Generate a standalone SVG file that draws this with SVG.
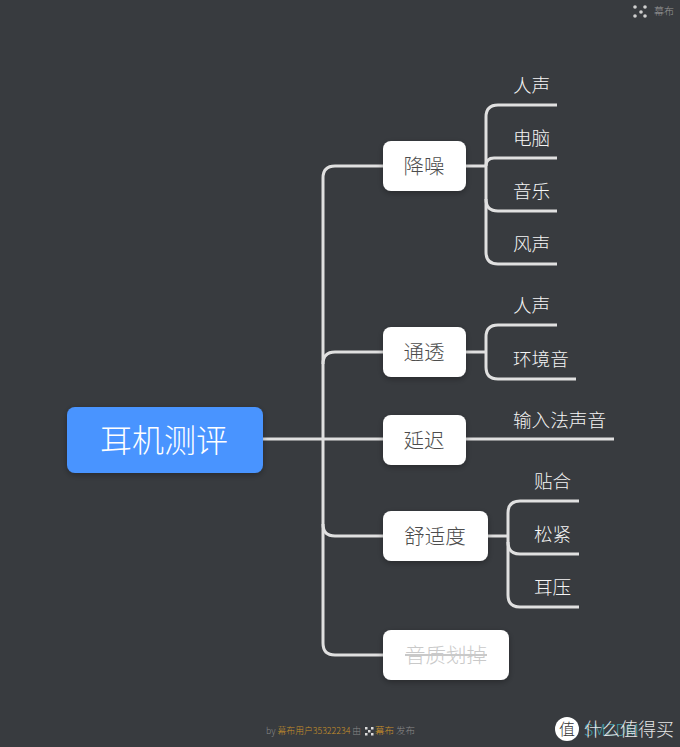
<svg xmlns="http://www.w3.org/2000/svg" width="680" height="747" viewBox="0 0 680 747">
<defs>
<filter id="sh" x="-20%" y="-20%" width="140%" height="150%"><feDropShadow dx="0" dy="2" stdDeviation="3" flood-color="#000" flood-opacity="0.3"/></filter>
</defs>
<style>
text{font-family:"Noto Sans CJK SC","Noto Sans",sans-serif;font-weight:300}
.l{fill:none;stroke:#e0e0e0;stroke-width:3}
.n{fill:#fff;filter:url(#sh)}
.t{font-size:20.500px;fill:#4d4d4d;text-anchor:middle}
.c{font-size:18.600px;fill:#f5f5f5}
.f{font-size:8.800px;fill:#8a8a8a}
.o{fill:#c8922a}
</style>
<rect width="680" height="747" fill="#383b3f"/>
<g id="connectors">
<path class="l" d="M263 439H383"/>
<path class="l" d="M383 166H335Q323 166 323 178V643Q323 655 335 655H383"/>
<path class="l" d="M323 364Q323 352 335 352H383"/>
<path class="l" d="M323 524Q323 536 335 536H383"/>
<path class="l" d="M466 166H486"/>
<path class="l" d="M557 105H498Q486 105 486 117V252Q486 264 498 264H557"/>
<path class="l" d="M486 166Q486 158 494 158H557"/>
<path class="l" d="M486 199Q486 211 498 211H557"/>
<path class="l" d="M466 352H486"/>
<path class="l" d="M557 325H498Q486 325 486 337V367Q486 379 498 379H576"/>
<path class="l" d="M466 439H614"/>
<path class="l" d="M488 536H508"/>
<path class="l" d="M579 501H520Q508 501 508 513V595Q508 607 520 607H579"/>
<path class="l" d="M508 542Q508 554 520 554H579"/>
</g>
<g id="root"><rect x="67" y="407" width="196" height="66" rx="8" fill="#4a94ff" filter="url(#sh)"/><text x="164" y="451.500" font-size="32" fill="#fff" text-anchor="middle">耳机测评</text></g>
<g id="n1"><rect class="n" x="383" y="141" width="83" height="50" rx="8"/><text class="t" x="424" y="174">降噪</text></g>
<g id="n2"><rect class="n" x="383" y="327" width="83" height="50" rx="8"/><text class="t" x="424" y="360">通透</text></g>
<g id="n3"><rect class="n" x="383" y="415" width="83" height="50" rx="8"/><text class="t" x="424" y="448">延迟</text></g>
<g id="n4"><rect class="n" x="383" y="511" width="105" height="50" rx="8"/><text class="t" x="435" y="544">舒适度</text></g>
<g id="n5"><rect class="n" x="383" y="630" width="126" height="50" rx="8"/><text class="t" x="446" y="663" style="fill:#c9c9c9;text-decoration:line-through">音质划掉</text></g>
<g id="c1"><text class="c" x="513" y="92">人声</text></g>
<g id="c2"><text class="c" x="513" y="145">电脑</text></g>
<g id="c3"><text class="c" x="513" y="198">音乐</text></g>
<g id="c4"><text class="c" x="513" y="251">风声</text></g>
<g id="c5"><text class="c" x="513" y="312">人声</text></g>
<g id="c6"><text class="c" x="513" y="366">环境音</text></g>
<g id="c7"><text class="c" x="513" y="427">输入法声音</text></g>
<g id="c8"><text class="c" x="534" y="488">贴合</text></g>
<g id="c9"><text class="c" x="534" y="541">松紧</text></g>
<g id="c10"><text class="c" x="534" y="594">耳压</text></g>
<g id="footer">
<text class="f" x="266" y="734">by <tspan class="o">幕布用户35322234</tspan> 由</text>
<g fill="#ddd"><rect x="365" y="727" width="2.500" height="2.500"/><rect x="365" y="733" width="2.500" height="2.500"/><rect x="371" y="727" width="2.500" height="2.500"/><rect x="371" y="733" width="2.500" height="2.500"/><rect x="368" y="730" width="2.500" height="2.500"/></g>
<text class="f" x="375" y="734" style="font-size:9.500px"><tspan class="o">幕布</tspan> 发布</text>
</g>
<g id="brand">
<g fill="#cfcfcf"><circle cx="635" cy="7" r="1.800"/><circle cx="635" cy="16" r="1.800"/><circle cx="645" cy="7" r="1.800"/><circle cx="645" cy="16" r="1.800"/><circle cx="641" cy="12" r="1.800"/></g>
<text x="654" y="15" font-size="10" fill="#9a9a9a">幕布</text>
</g>
<g id="watermark">
<text x="584" y="736" font-size="16" font-weight="700" fill="#3f9aa3">SMZDM</text>
<circle cx="567" cy="729" r="12" fill="#fff"/>
<text x="567" y="735" font-size="16" font-weight="700" fill="#333" text-anchor="middle">值</text>
<text x="584" y="736" font-size="18" fill="#e6e6e6">什么值得买</text>
</g>
</svg>
